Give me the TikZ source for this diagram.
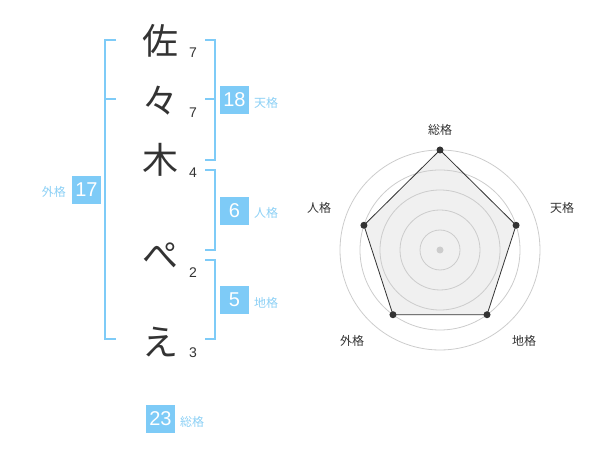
\documentclass[tikz,border=0pt]{standalone}
\usepackage{fontspec}
\setmainfont{Liberation Sans}
\newfontfamily\jpfont{Noto Sans CJK JP}
\definecolor{kakublue}{RGB}{126,203,247}
\definecolor{kakutext}{RGB}{140,208,245}
\definecolor{inkgray}{RGB}{51,51,51}
\definecolor{ringgray}{RGB}{204,204,204}
\definecolor{areagray}{RGB}{240,240,240}
\begin{document}
\begin{tikzpicture}[x=1pt, y=-1pt,
    namechar/.style={inner sep=0pt, text=inkgray, font=\jpfont\fontsize{36}{36}\selectfont},
    strokecount/.style={inner sep=0pt, text=inkgray, font=\fontsize{14}{14}\selectfont},
    scorebox/.style={fill=kakublue, text=white, minimum width=29pt, minimum height=28pt, inner sep=0pt, font=\fontsize{20}{20}\selectfont},
    scorelabel/.style={inner sep=0pt, text=kakutext, font=\jpfont\fontsize{12}{12}\selectfont},
    bracket/.style={draw=kakublue, line width=2pt},
    axislabel/.style={inner sep=0pt, text=inkgray, font=\jpfont\fontsize{12}{12}\selectfont}]
  \useasboundingbox (0,0) rectangle (600,470);

  % Name characters and stroke counts
  \foreach \y/\name/\ch in {41/sa/佐, 101/noma/々, 160/ki/木, 256/pe/ぺ, 342/e/え} {
    \node[namechar] (\name) at (160,\y) {\ch};
  }
  \foreach \y/\name/\n in {53/nsa/7, 113/nnoma/7, 173/nki/4, 273/npe/2, 353/ne/3} {
    \node[strokecount] (\name) at (193,\y) {\n};
  }

  % Brackets
  \draw[bracket] (116,40) -- (105,40) -- (105,339) -- (116,339);
  \draw[bracket] (105,99) -- (116,99);
  \draw[bracket] (205,40) -- (215,40) -- (215,160) -- (205,160);
  \draw[bracket] (205,99) -- (215,99);
  \draw[bracket] (205,170) -- (215,170) -- (215,250) -- (205,250);
  \draw[bracket] (205,260) -- (215,260) -- (215,339) -- (205,339);

  % Scores
  \node[scorebox] (ten) at (234.5,100) {18};
  \node[scorelabel, anchor=west] (tenlabel) at (254,103) {天格};
  \node[scorebox] (jin) at (234.5,211) {6};
  \node[scorelabel, anchor=west] (jinlabel) at (254,213) {人格};
  \node[scorebox] (chi) at (234.5,300) {5};
  \node[scorelabel, anchor=west] (chilabel) at (254,303) {地格};
  \node[scorebox] (gai) at (86.5,190) {17};
  \node[scorelabel, anchor=east] (gailabel) at (66,192) {外格};
  \node[scorebox] (sou) at (160.5,419) {23};
  \node[scorelabel, anchor=west] (soulabel) at (180,422) {総格};

  % Radar chart
  \coordinate (c) at (440,250);
  \foreach \ang/\r/\name in {-90/100/psou, -18/80/pten, 54/80/pchi, 126/80/pgai, 198/80/pjin} {
    \coordinate (\name) at ([shift={(\ang:\r)}]c);
  }
  \fill[areagray] (psou) -- (pten) -- (pchi) -- (pgai) -- (pjin) -- cycle;
  \foreach \r in {20,40,...,100} {
    \draw[ringgray, line width=0.8pt] (c) circle[radius=\r];
  }
  \draw[inkgray, line width=0.8pt] (psou) -- (pten) -- (pchi) -- (pgai) -- (pjin) -- cycle;
  \foreach \name in {psou, pten, pchi, pgai, pjin} {
    \fill[inkgray] (\name) circle[radius=3.5];
  }
  \fill[ringgray] (c) circle[radius=3.5];

  % Axis labels
  \node[axislabel] (asou) at (440,130) {総格};
  \node[axislabel] (aten) at (562,208) {天格};
  \node[axislabel] (achi) at (524,341) {地格};
  \node[axislabel] (agai) at (352,341) {外格};
  \node[axislabel] (ajin) at (319,208) {人格};
\end{tikzpicture}
\end{document}
